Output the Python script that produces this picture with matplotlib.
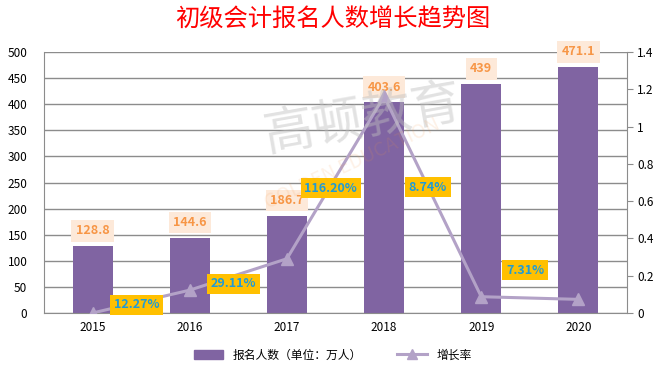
import numpy as np
import matplotlib.pyplot as plt
from matplotlib.lines import Line2D
from matplotlib.patches import Patch

plt.rcParams['font.family'] = ['Noto Sans CJK SC', 'DejaVu Sans']

years = ['2015', '2016', '2017', '2018', '2019', '2020']
applicants = [128.8, 144.6, 186.7, 403.6, 439, 471.1]
growth = [0, 0.1227, 0.2911, 1.162, 0.0874, 0.0731]
growth_labels = ['12.27%', '29.11%', '116.20%', '8.74%', '7.31%']
# where the growth labels sit (right axis units)
growth_label_y = [0.043, 0.156, 0.67, 0.675, 0.23]

bar_color = '#8064A2'
line_color = '#B3A2C7'

fig = plt.figure(figsize=(6.65, 3.73), dpi=100)
ax = fig.add_axes([44 / 665, 60 / 373, 583 / 665, 261 / 373])
ax2 = ax.twinx()

x = np.arange(len(years))
ax.bar(x, applicants, width=0.41, color=bar_color, zorder=2)
ax.set_xlim(-0.5, 5.5)
ax.set_ylim(0, 500)
ax.set_yticks(np.arange(0, 501, 50))
ax.grid(axis='y', color='#8c8c8c', linewidth=1, zorder=0)
ax.set_axisbelow(True)
ax.set_xticks(x)
ax.set_xticklabels(years)
ax.tick_params(axis='x', length=0, pad=6, labelsize=8.5)
ax.tick_params(axis='y', length=0, pad=12, labelsize=8.5)
for s in ['top', 'right']:
    ax.spines[s].set_visible(False)
ax.spines['left'].set_color('#8c8c8c')
ax.spines['bottom'].set_color('#8c8c8c')

for xi, v in zip(x, applicants):
    ax.text(xi, v + 29, f'{v:g}', ha='center', va='center', color='#F79646',
            fontsize=9, fontweight='bold', zorder=4,
            bbox=dict(boxstyle='square,pad=0.35', fc='#FDE9D9', ec='none'))

ax2.plot(x, growth, color=line_color, linewidth=2.2, marker='^', markersize=8, zorder=3)
ax2.set_ylim(0, 1.4)
ax2.set_yticks(np.arange(0, 1.41, 0.2))
ax2.set_yticklabels(['0', '0.2', '0.4', '0.6', '0.8', '1', '1.2', '1.4'])
ax2.tick_params(axis='y', direction='out', length=4, color='#8c8c8c', labelsize=8.5)
for s in ['top', 'left', 'bottom']:
    ax2.spines[s].set_visible(False)
ax2.spines['right'].set_color('#8c8c8c')

for i, (lab, ly) in enumerate(zip(growth_labels, growth_label_y)):
    ax2.text(i + 0.45, ly, lab, ha='center', va='center', color='#1F9BD7',
             fontsize=9, fontweight='bold', zorder=5,
             bbox=dict(boxstyle='square,pad=0.3', fc='#FFC000', ec='none'))

# faint watermark
fig.text(0.545, 0.68, '高顿教育', fontsize=36, color='#bfbfbf', alpha=0.45,
         ha='center', va='center', rotation=10, zorder=0)
fig.text(0.53, 0.56, 'GOLDEN EDUCATION', fontsize=14, color='#F79646', alpha=0.13,
         ha='center', va='center', rotation=25, zorder=0)

fig.text(0.5, 0.946, '初级会计报名人数增长趋势图', ha='center', va='center',
         color='#FF0000', fontsize=17.5)

handles = [Patch(color=bar_color),
           Line2D([0], [0], color=line_color, linewidth=2.2, marker='^', markersize=7)]
fig.legend(handles, ['报名人数（单位：万人）', '增长率'], loc='center',
           bbox_to_anchor=(0.5, 0.048), ncol=2, frameon=False, fontsize=8.5,
           handlelength=2.5, columnspacing=3)

fig.savefig('out.png', dpi=100)
